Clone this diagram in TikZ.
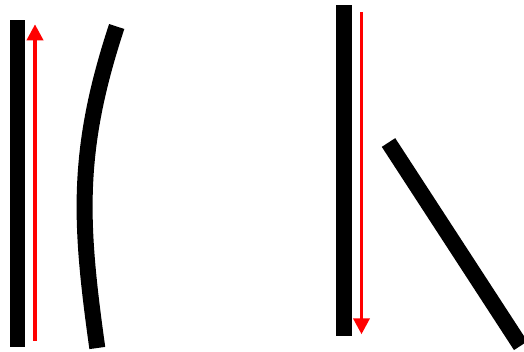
\documentclass[tikz,border=0pt]{standalone}
\usetikzlibrary{arrows.meta}
\begin{document}
\begin{tikzpicture}[x=1pt,y=-1pt,
  bar/.style={fill=black},
  stroke/.style={line width=16pt,draw=black,line cap=butt},
  redarrow/.style={draw=red,line width=3.7pt,-{Triangle[width=16pt,length=16pt]}}]
\clip (0,0) rectangle (524,351);
\fill[white] (0,0) rectangle (524,351);
% left panel
\fill[bar] (9.5,19.5) rectangle (25.3,346.5);
\coordinate (la1) at (35,340.7);
\coordinate (la2) at (35,24.3);
\draw[redarrow] (la1) -- (la2);
\coordinate (c0) at (116.7,26.5);
\coordinate (c3) at (97.3,348);
\draw[stroke] (c0) .. controls (75.45,151.5) and (79.8,223) .. (c3);
% right panel
\fill[bar] (336,4.7) rectangle (352,335.7);
\coordinate (ra1) at (361.5,12);
\coordinate (ra2) at (361.5,334.3);
\draw[redarrow] (ra1) -- (ra2);
\coordinate (d0) at (388.5,142.5);
\coordinate (d1) at (520.7,345.7);
\draw[stroke] (d0) -- (d1);
\end{tikzpicture}
\end{document}
